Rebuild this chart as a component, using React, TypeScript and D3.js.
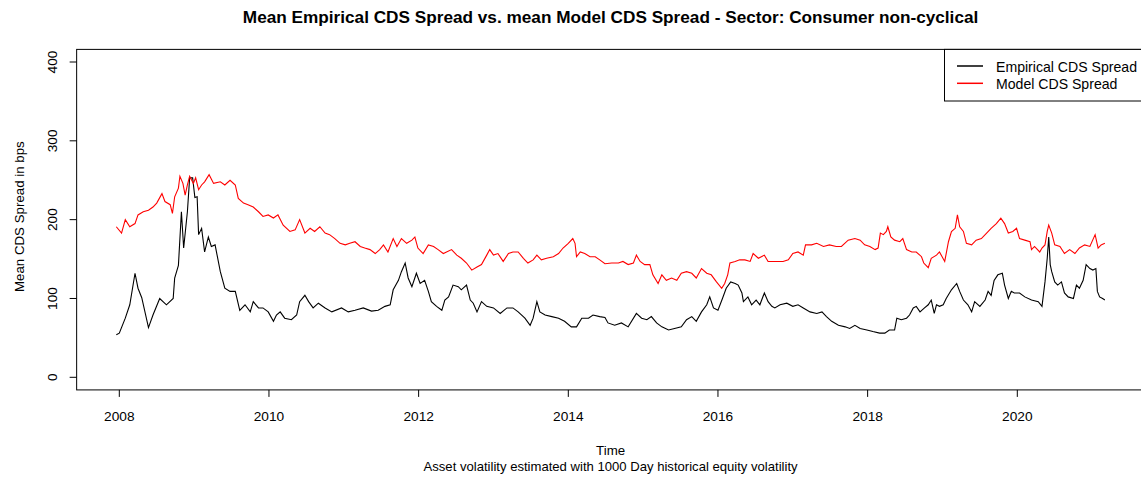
import React, { useEffect } from "react";
import * as d3 from "d3";

const empYears = [2007.96,2008.00,2008.08,2008.14,2008.21,2008.25,2008.30,2008.39,2008.45,2008.54,2008.63,2008.72,2008.74,2008.79,2008.83,2008.86,2008.91,2008.94,2008.98,2009.01,2009.04,2009.06,2009.10,2009.14,2009.19,2009.23,2009.28,2009.35,2009.41,2009.48,2009.55,2009.61,2009.68,2009.75,2009.79,2009.86,2009.92,2009.99,2010.06,2010.10,2010.15,2010.21,2010.30,2010.37,2010.41,2010.48,2010.53,2010.59,2010.66,2010.75,2010.84,2010.97,2011.06,2011.15,2011.26,2011.37,2011.46,2011.55,2011.62,2011.66,2011.73,2011.77,2011.82,2011.86,2011.91,2011.97,2012.02,2012.08,2012.13,2012.17,2012.24,2012.31,2012.35,2012.40,2012.46,2012.53,2012.57,2012.64,2012.69,2012.73,2012.78,2012.84,2012.91,2013.00,2013.09,2013.18,2013.26,2013.33,2013.42,2013.49,2013.53,2013.58,2013.62,2013.69,2013.78,2013.87,2013.95,2014.04,2014.11,2014.18,2014.27,2014.33,2014.42,2014.49,2014.53,2014.62,2014.71,2014.80,2014.91,2014.98,2015.05,2015.11,2015.18,2015.25,2015.34,2015.42,2015.51,2015.58,2015.65,2015.71,2015.78,2015.85,2015.89,2015.94,2016.00,2016.06,2016.11,2016.17,2016.23,2016.27,2016.32,2016.34,2016.40,2016.45,2016.51,2016.56,2016.62,2016.67,2016.72,2016.76,2016.83,2016.92,2017.00,2017.07,2017.14,2017.23,2017.32,2017.39,2017.45,2017.52,2017.61,2017.70,2017.76,2017.83,2017.90,2017.99,2018.07,2018.16,2018.23,2018.29,2018.36,2018.39,2018.45,2018.52,2018.56,2018.61,2018.65,2018.70,2018.76,2018.81,2018.85,2018.89,2018.92,2018.96,2019.01,2019.05,2019.12,2019.19,2019.23,2019.28,2019.34,2019.39,2019.43,2019.50,2019.57,2019.61,2019.65,2019.69,2019.74,2019.80,2019.83,2019.88,2019.92,2019.96,2020.03,2020.10,2020.19,2020.28,2020.33,2020.37,2020.40,2020.42,2020.44,2020.46,2020.50,2020.54,2020.59,2020.63,2020.68,2020.75,2020.79,2020.83,2020.88,2020.92,2020.97,2021.01,2021.05,2021.07,2021.10,2021.14,2021.17];
const empValues = [54,56,75,92,132,113,101,63,79,100,92,100,126,142,210,164,210,253,253,228,229,181,189,159,178,166,168,134,113,109,109,85,92,83,96,88,88,83,71,79,83,75,73,79,96,104,96,88,94,88,83,88,83,85,88,84,85,90,92,111,123,134,145,126,115,132,119,123,109,96,90,85,98,102,117,115,111,117,98,94,83,96,90,88,81,88,88,83,75,66,75,96,83,79,77,75,71,64,64,75,75,79,77,76,69,66,69,64,81,75,73,77,69,64,60,62,64,73,77,71,83,92,102,88,85,100,113,121,119,117,107,96,102,92,98,92,107,96,90,88,92,94,90,92,88,83,81,83,77,71,66,64,62,66,62,60,58,56,56,60,60,75,73,75,79,88,90,83,88,92,98,81,92,90,92,100,111,119,109,98,92,83,96,90,98,109,104,123,130,132,117,100,109,107,107,102,98,96,90,121,151,178,143,134,121,117,121,107,102,100,117,113,123,143,138,136,138,109,102,100,98];

const modelYears = [2007.96,2008.03,2008.08,2008.14,2008.21,2008.25,2008.32,2008.39,2008.45,2008.50,2008.57,2008.61,2008.68,2008.71,2008.74,2008.79,2008.81,2008.85,2008.88,2008.91,2008.94,2008.99,2009.02,2009.06,2009.10,2009.14,2009.20,2009.26,2009.35,2009.41,2009.48,2009.55,2009.59,2009.66,2009.72,2009.79,2009.86,2009.92,2009.99,2010.06,2010.12,2010.19,2010.28,2010.35,2010.41,2010.48,2010.55,2010.61,2010.68,2010.75,2010.81,2010.88,2010.95,2011.02,2011.08,2011.15,2011.22,2011.28,2011.35,2011.42,2011.48,2011.53,2011.59,2011.66,2011.71,2011.77,2011.84,2011.91,2011.95,2011.99,2012.06,2012.13,2012.20,2012.26,2012.33,2012.44,2012.51,2012.57,2012.64,2012.71,2012.78,2012.84,2012.91,2012.95,2013.00,2013.06,2013.13,2013.20,2013.26,2013.33,2013.40,2013.46,2013.53,2013.58,2013.64,2013.71,2013.80,2013.87,2013.93,2014.00,2014.06,2014.09,2014.11,2014.16,2014.22,2014.29,2014.36,2014.42,2014.49,2014.58,2014.67,2014.73,2014.80,2014.87,2014.91,2014.96,2015.02,2015.09,2015.13,2015.20,2015.25,2015.31,2015.38,2015.45,2015.51,2015.58,2015.65,2015.71,2015.78,2015.85,2015.91,2015.98,2016.05,2016.09,2016.13,2016.16,2016.23,2016.29,2016.36,2016.43,2016.47,2016.54,2016.62,2016.67,2016.76,2016.87,2016.94,2017.00,2017.07,2017.14,2017.17,2017.25,2017.32,2017.41,2017.49,2017.58,2017.65,2017.74,2017.83,2017.90,2017.96,2018.03,2018.10,2018.14,2018.17,2018.21,2018.25,2018.27,2018.31,2018.36,2018.43,2018.47,2018.52,2018.59,2018.65,2018.72,2018.75,2018.81,2018.85,2018.92,2018.96,2019.03,2019.08,2019.12,2019.17,2019.20,2019.23,2019.28,2019.32,2019.39,2019.45,2019.52,2019.59,2019.65,2019.72,2019.78,2019.83,2019.88,2019.94,2019.99,2020.03,2020.10,2020.17,2020.19,2020.23,2020.30,2020.33,2020.37,2020.40,2020.42,2020.46,2020.50,2020.57,2020.63,2020.70,2020.77,2020.83,2020.90,2020.97,2021.04,2021.08,2021.12,2021.17];
const modelValues = [191,183,200,191,195,206,210,212,216,221,233,223,219,208,229,240,255,246,231,244,255,246,253,238,244,248,257,246,248,244,250,244,227,221,219,216,210,204,206,202,206,193,185,187,200,183,189,185,191,183,181,176,170,168,170,172,166,164,162,157,162,168,159,176,166,176,170,174,178,164,157,168,166,162,157,162,155,151,145,136,140,143,155,162,155,157,147,157,159,159,151,145,149,155,149,151,153,157,164,170,176,170,153,159,157,153,153,149,144,145,145,147,143,145,155,147,143,143,130,119,130,123,126,123,132,134,132,126,138,132,130,121,113,119,130,145,147,149,149,147,157,151,155,147,147,147,149,157,159,155,168,168,170,166,168,166,166,174,176,174,168,166,162,164,183,181,185,191,178,174,172,176,162,159,159,153,145,139,151,155,159,147,172,185,189,206,191,185,170,168,174,176,183,189,195,202,195,183,185,189,176,174,172,162,166,159,164,168,185,193,183,168,166,157,162,157,164,168,166,181,164,168,170];

const xTicks = [2008, 2010, 2012, 2014, 2016, 2018, 2020];
const yTicks = [0, 100, 200, 300, 400];
const legendLabels = ["Empirical CDS Spread", "Model CDS Spread"];
const seriesColors = ["#000000", "#ff0000"];

const FONT = "'Liberation Sans', Arial, Helvetica, sans-serif";

export default function App() {
  useEffect(() => {
    document.body.style.margin = "0";
  }, []);

  const W = 1141, H = 477;
  const x = d3.scaleLinear().domain([2008, 2020]).range([119.3, 1017.3]);
  const y = d3.scaleLinear().domain([0, 400]).range([377.3, 62]);
  const boxL = x(2007.43), boxR = x(2021.70), boxT = y(416), boxB = y(-16);

  const line = d3.line<[number, number]>().x(d => x(d[0])).y(d => y(d[1]));
  const empPath = line(empYears.map((t, i) => [t, empValues[i]]));
  const modPath = line(modelYears.map((t, i) => [t, modelValues[i]]));

  const cx = (boxL + boxR) / 2;
  const cy = (boxT + boxB) / 2;

  return (
    <svg width={W} height={H} style={{ display: "block", background: "#fff" }} fontFamily={FONT}>
      <rect x={0} y={0} width={W} height={H} fill="#fff" />
      <text x={cx} y={22.5} textAnchor="middle" fontWeight="bold" fontSize={17.2} fill="#000">
        Mean Empirical CDS Spread vs. mean Model CDS Spread - Sector: Consumer non-cyclical
      </text>
      <defs>
        <clipPath id="clip">
          <rect x={boxL} y={boxT} width={boxR - boxL} height={boxB - boxT} />
        </clipPath>
      </defs>
      <g clipPath="url(#clip)">
        <path d={empPath || ""} fill="none" stroke={seriesColors[0]} strokeWidth={1.1} />
        <path d={modPath || ""} fill="none" stroke={seriesColors[1]} strokeWidth={1.1} />
      </g>
      <rect x={boxL} y={boxT} width={boxR - boxL} height={boxB - boxT} fill="none" stroke="#000" strokeWidth={1} />
      {xTicks.map(t => (
        <g key={"x" + t}>
          <line x1={x(t)} x2={x(t)} y1={boxB} y2={boxB + 7} stroke="#000" />
          <text x={x(t)} y={421} textAnchor="middle" fontSize={13.7} fill="#000">{t}</text>
        </g>
      ))}
      {yTicks.map(t => (
        <g key={"y" + t}>
          <line x1={boxL - 7} x2={boxL} y1={y(t)} y2={y(t)} stroke="#000" />
          <text transform={`translate(57,${y(t)}) rotate(-90)`} textAnchor="middle" fontSize={13.7} fill="#000">{t}</text>
        </g>
      ))}
      <text transform={`translate(24,${cy - 3}) rotate(-90)`} textAnchor="middle" fontSize={13.3} fill="#000">
        Mean CDS Spread in bps
      </text>
      <text x={cx} y={455} textAnchor="middle" fontSize={13.3} fill="#000">Time</text>
      <text x={cx} y={471} textAnchor="middle" fontSize={13.1} fill="#000">
        Asset volatility estimated with 1000 Day historical equity volatility
      </text>
      <rect x={944.5} y={boxT} width={boxR - 944.5} height={101 - boxT} fill="#fff" stroke="#000" strokeWidth={1} />
      {legendLabels.map((lab, i) => (
        <g key={lab}>
          <line x1={957} x2={983} y1={66 + i * 17.3} y2={66 + i * 17.3} stroke={seriesColors[i]} strokeWidth={1.5} />
          <text x={996} y={71.5 + i * 17.3} fontSize={14.1} fill="#000">{lab}</text>
        </g>
      ))}
    </svg>
  );
}
